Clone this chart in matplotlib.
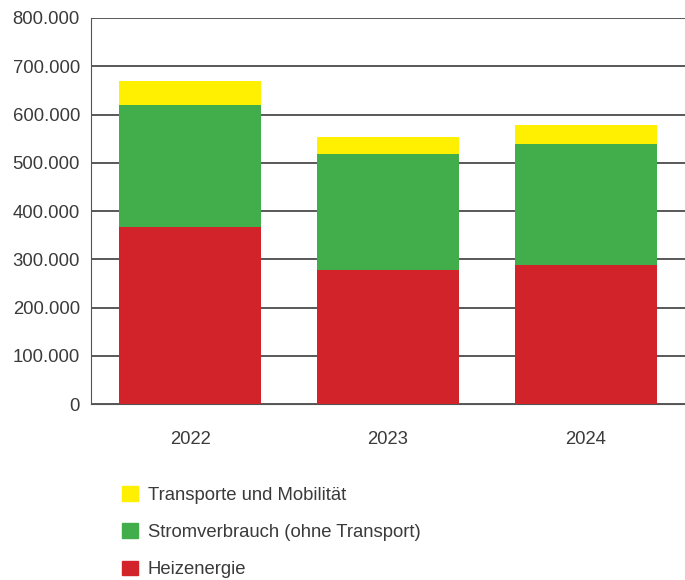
import matplotlib.pyplot as plt
from matplotlib.patches import Patch
from matplotlib.ticker import FuncFormatter

years = ['2022', '2023', '2024']
heizenergie = [368000, 278000, 288000]
strom = [252000, 240000, 251000]
transport = [49000, 35000, 39000]

labels = ['Transporte und Mobilität', 'Stromverbrauch (ohne Transport)', 'Heizenergie']
colors = ['#FFEF00', '#41AE4B', '#D2232A']

plt.rcParams['font.family'] = ['Liberation Sans', 'DejaVu Sans']
text_color = '#3a3a3a'

fig = plt.figure(figsize=(6.85, 5.8), dpi=100)
ax = fig.add_axes([0.133, 0.303, 0.867, 0.666])

x = range(len(years))
bottom2 = [h + s for h, s in zip(heizenergie, strom)]
ax.bar(x, heizenergie, width=0.72, color=colors[2], zorder=3)
ax.bar(x, strom, width=0.72, bottom=heizenergie, color=colors[1], zorder=3)
ax.bar(x, transport, width=0.72, bottom=bottom2, color=colors[0], zorder=3)

ax.set_xlim(-0.5, 2.5)
ax.set_ylim(0, 800000)
ax.set_yticks(range(0, 800001, 100000))
ax.yaxis.set_major_formatter(FuncFormatter(lambda v, p: f'{int(v):,}'.replace(',', '.')))
ax.set_xticks(list(x))
ax.set_xticklabels(years)
ax.grid(axis='y', color='#3c3c3c', linewidth=1.2, zorder=1)
ax.tick_params(axis='y', length=0, pad=8, labelsize=13.3, labelcolor=text_color)
ax.tick_params(axis='x', length=0, pad=19, labelsize=13.3, labelcolor=text_color)

for side in ['top', 'right']:
    ax.spines[side].set_visible(False)
ax.spines['left'].set_color('#555555')
ax.spines['bottom'].set_color('#555555')

handles = [Patch(color=c) for c in colors]
fig.legend(handles, labels, loc='upper left', bbox_to_anchor=(0.178, 0.162),
           frameon=False, handlelength=0.85, handleheight=0.85, handletextpad=0.55,
           labelspacing=1.06, fontsize=13.3, labelcolor=text_color, borderaxespad=0,
           borderpad=0)

fig.savefig('out.png', dpi=100)
